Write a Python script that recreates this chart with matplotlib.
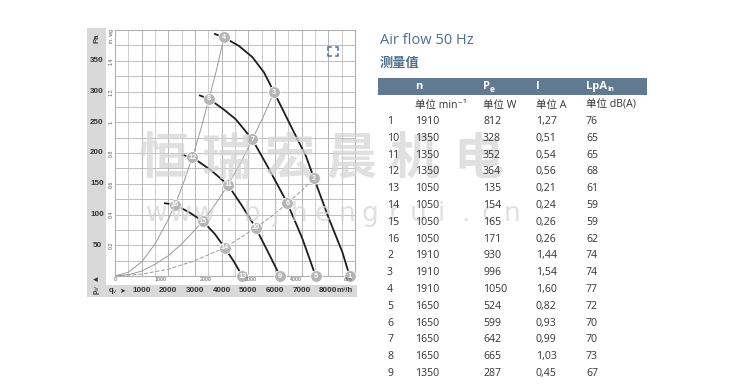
import matplotlib

matplotlib.use("Agg")
import matplotlib.pyplot as plt
from matplotlib.patches import Rectangle
from matplotlib.lines import Line2D
from matplotlib.transforms import blended_transform_factory as blend

W, H = 750, 386

plt.rcParams["font.family"] = ["Open Sans", "Noto Sans CJK SC", "DejaVu Sans"]

# --- fan curves, q in m3/h, p in Pa ---
N1910_Q = [3713, 4088, 4650, 5150, 5588, 5963, 6650, 7150, 7463, 8025, 8525, 8800]
N1910_P = [394, 388, 374, 356, 331, 299, 239, 196, 159, 93, 39, 0]
N1650_Q = [3150, 3525, 4100, 4525, 5150, 5775, 6463, 7025, 7525]
N1650_P = [294, 288, 270, 255, 222, 174, 118.5, 61, 0]
N1350_Q = [2500, 2900, 3600, 4238, 4750, 5275, 5750, 6188]
N1350_P = [197, 193, 172, 148, 115, 78.5, 38, 0]
N1050_Q = [1838, 2250, 2800, 3300, 3750, 4113, 4450, 4775]
N1050_P = [118.5, 116, 103, 89, 68, 46, 24, 0]

# --- system curves ---
SYS_A_Q = [0, 500, 1000, 1500, 2000, 2250, 2600, 2900, 3200, 3525, 3800, 4088]
SYS_A_P = [0, 6, 23, 52, 92, 116, 155, 193, 236, 288, 334, 388]
SYS_B_Q = [0, 500, 1000, 1500, 2000, 2500, 3300, 3800, 4238, 4700, 5150, 5550, 5963]
SYS_B_P = [0, 2, 8, 19, 33, 52, 89, 119, 148, 183, 222, 258, 299]
SYS_C_Q = [0, 1000, 2000, 3000, 4113, 4700, 5275, 5900, 6463, 7000, 7463]
SYS_C_P = [0, 3, 11, 25, 46, 62, 78.5, 98, 118.5, 139, 159]

# --- operating points ---
PT_ID = ["1", "2", "3", "4", "5", "6", "7", "8",
         "9", "10", "11", "12", "13", "14", "15", "16"]
PT_Q = [8800, 7463, 5963, 4088, 7525, 6463, 5150, 3525,
        6188, 5275, 4238, 2900, 4775, 4113, 3300, 2250]
PT_P = [0, 159, 299, 388, 0, 118.5, 222, 288,
        0, 78.5, 148, 193, 0, 46, 89, 116]

# --- axis labels ---
PA_TICKS = [50, 100, 150, 200, 250, 300, 350]
INWG_TICKS = [0.2, 0.4, 0.6, 0.8, 1, 1.2, 1.4]
INWG_LABELS = ["0.2", "0.4", "0.6", "0.8", "1", "1.2", "1.4"]
CFM_TICKS = [0, 1000, 2000, 3000, 4000]
Q_TICKS = [1000, 2000, 3000, 4000, 5000, 6000, 7000, 8000]

# --- table ---
ROW_ID = ["1", "10", "11", "12", "13", "14", "15", "16",
          "2", "3", "4", "5", "6", "7", "8", "9"]
ROW_N = ["1910", "1350", "1350", "1350", "1050", "1050", "1050", "1050",
         "1910", "1910", "1910", "1650", "1650", "1650", "1650", "1350"]
ROW_PE = ["812", "328", "352", "364", "135", "154", "165", "171",
          "930", "996", "1050", "524", "599", "642", "665", "287"]
ROW_I = ["1,27", "0,51", "0,54", "0,56", "0,21", "0,24", "0,26", "0,26",
         "1,44", "1,54", "1,60", "0,82", "0,93", "0,99", "1,03", "0,45"]
ROW_LPA = ["76", "65", "65", "68", "61", "59", "59", "62",
           "74", "74", "77", "72", "70", "70", "73", "67"]
UNITS = ["单位 min⁻¹", "单位 W", "单位 A", "单位 dB(A)"]


def fx(x):
    return x / W


def fy(y):
    return 1 - y / H


fig = plt.figure(figsize=(W / 100, H / 100), dpi=100)
fig.patch.set_facecolor("white")

# gray frame bands of the chart panel
fig.add_artist(Rectangle((fx(87), fy(297)), (106 - 87) / W, (297 - 28) / H,
                         transform=fig.transFigure, color="#d9d9d9", lw=0, zorder=0))
fig.add_artist(Rectangle((fx(87), fy(297)), (357 - 87) / W, (297 - 285) / H,
                         transform=fig.transFigure, color="#d9d9d9", lw=0, zorder=0))

ax = fig.add_axes([fx(115), fy(276), 240 / W, 246 / H])
ax.set_xlim(0, 9000)
ax.set_ylim(0, 400)
ax.set_xticks([])
ax.set_yticks([])
for s in ax.spines.values():
    s.set_color("#b0b0b0")
    s.set_linewidth(0.8)

for q in range(500, 9000, 500):
    ax.axvline(q, color="#a8a8a8" if q % 1000 == 0 else "#c4c4c4", lw=0.6, zorder=1)
for p in range(25, 400, 25):
    ax.axhline(p, color="#b4b4b4", lw=0.6, zorder=1)

ax.plot(SYS_A_Q, SYS_A_P, color="#9a9a9a", lw=0.7, zorder=2)
ax.plot(SYS_B_Q, SYS_B_P, color="#9a9a9a", lw=0.7, zorder=2)
ax.plot(SYS_C_Q, SYS_C_P, color="#9a9a9a", lw=0.7, ls=(0, (4, 2)), zorder=2)

for qs, ps in [(N1910_Q, N1910_P), (N1650_Q, N1650_P),
               (N1350_Q, N1350_P), (N1050_Q, N1050_P)]:
    ax.plot(qs, ps, color="#1e1e1e", lw=1.3, zorder=3, solid_capstyle="butt")

ax.scatter(PT_Q, PT_P, s=72, color="#b5b5b5", edgecolor="white", lw=0.6,
           zorder=4, clip_on=False)
for pid, q, p in zip(PT_ID, PT_Q, PT_P):
    ax.text(q, p, pid, color="white", fontsize=5.2, fontweight="bold",
            ha="center", va="center", zorder=5, family="Liberation Sans")

# left band: Pa scale
tr_y = blend(fig.transFigure, ax.transData)
for p in PA_TICKS:
    fig.text(fx(97), p, str(p), transform=tr_y, ha="center", va="center",
             fontsize=5.8, fontweight="bold", color="#333333", family="Liberation Sans")
fig.text(fx(97), fy(38), "Pa", rotation=90, ha="center", va="center",
         fontsize=5.5, fontweight="bold", color="#333333", family="Liberation Sans")
fig.text(fx(97), fy(279), "▲", rotation=90, ha="center", va="center",
         fontsize=4.5, color="#333333", family="DejaVu Sans")
fig.text(fx(97), fy(289), "p$_{sf}$", rotation=90, ha="center", va="center",
         fontsize=5, fontweight="bold", color="#333333", family="Liberation Sans")

# inner in. wg scale
for v, lab in zip(INWG_TICKS, INWG_LABELS):
    fig.text(fx(111), v * 249.09, lab, transform=tr_y, rotation=90, ha="center",
             va="center", fontsize=3.8, color="#555555", family="Liberation Sans")
fig.text(fx(111), fy(36), "in. wg", rotation=90, ha="center", va="center",
         fontsize=3.8, color="#555555", family="Liberation Sans")

# inner cfm scale
tr_x = blend(ax.transData, fig.transFigure)
for c in CFM_TICKS:
    fig.text(c * 1.699, fy(279.5), str(c), transform=tr_x, ha="center", va="center",
             fontsize=3.8, color="#555555", family="Liberation Sans")
fig.text(8737, fy(279.5), "cfm", transform=tr_x, ha="center", va="center",
         fontsize=3.8, color="#555555", family="Liberation Sans")

# bottom band: m3/h scale
for q in Q_TICKS:
    fig.text(q, fy(291), str(q), transform=tr_x, ha="center", va="center",
             fontsize=5.8, fontweight="bold", color="#333333", family="Liberation Sans")
fig.text(fx(345), fy(291), "m³/h", ha="center", va="center",
         fontsize=5.5, fontweight="bold", color="#333333", family="Liberation Sans")
fig.text(fx(113), fy(291), "q$_v$", ha="center", va="center",
         fontsize=5.5, fontweight="bold", color="#333333", family="Liberation Sans")
fig.text(fx(122), fy(291), "➤", ha="center", va="center",
         fontsize=5, color="#333333", family="DejaVu Sans")

# full-screen icon
ic, d, cx, cy = "#5b7a97", 2.5, 333, 51.5
for sx in (-1, 1):
    for sy in (-1, 1):
        x0, y0 = cx + sx * 5, cy + sy * 4.5
        fig.add_artist(Line2D([fx(x0 - sx * d), fx(x0), fx(x0)],
                              [fy(y0), fy(y0), fy(y0 - sy * d)],
                              transform=fig.transFigure, color=ic, lw=1.2))

# table on the right
blue = "#506f8c"
fig.text(fx(380), fy(40), "Air flow 50 Hz", fontsize=10.5, color=blue,
         ha="left", va="center")
fig.text(fx(380), fy(63), "测量值", fontsize=9.5, color=blue, fontweight="bold",
         ha="left", va="center", family=["Noto Sans CJK SC", "DejaVu Sans"])
fig.add_artist(Rectangle((fx(378), fy(95)), (647 - 378) / W, 17 / H,
                         transform=fig.transFigure, color="#617a91", lw=0))

cols = [415, 483, 536, 586]
hy = 86.5
fig.text(fx(cols[0]), fy(hy), "n", color="white", fontsize=8, fontweight="bold",
         ha="left", va="center")
fig.text(fx(cols[1]), fy(hy), "P", color="white", fontsize=8, fontweight="bold",
         ha="left", va="center")
fig.text(fx(cols[1] + 6.5), fy(hy + 2.5), "e", color="white", fontsize=6,
         fontweight="bold", ha="left", va="center")
fig.text(fx(cols[2]), fy(hy), "I", color="white", fontsize=8, fontweight="bold",
         ha="left", va="center")
fig.text(fx(cols[3]), fy(hy), "LpA", color="white", fontsize=8, fontweight="bold",
         ha="left", va="center")
fig.text(fx(cols[3] + 21), fy(hy + 3), "in", color="white", fontsize=5,
         fontweight="bold", ha="left", va="center")

txt = "#333333"
for u, c in zip(UNITS, cols):
    fig.text(fx(c), fy(105), u, color=txt, fontsize=7.6, ha="left", va="center",
             zorder=11)

y0, dy = 121.5, 16.8
for i, row in enumerate(zip(ROW_ID, ROW_N, ROW_PE, ROW_I, ROW_LPA)):
    y = y0 + i * dy
    for val, c in zip(row, [387] + cols):
        fig.text(fx(c), fy(y), val, color=txt, fontsize=7.6, ha="left", va="center",
                 zorder=11)

# watermark
WM_CHARS = "恒瑞宏晨机电"
for i, ch in enumerate(WM_CHARS):
    fig.text(fx(163 + i * 63), fy(160), ch, fontsize=36, fontweight="bold",
             color="#d6d6d6", alpha=0.75, ha="center", va="center",
             family=["Noto Sans CJK SC", "DejaVu Sans"], zorder=10)
WM_URL = "www.bjhengrui.cn"
for i, ch in enumerate(WM_URL):
    fig.text(fx(157 + i * 23.7), fy(221), ch, fontsize=19, color="#d6d6d6",
             alpha=0.75, ha="center", va="baseline", family="DejaVu Sans", zorder=10)

fig.savefig("out.png", dpi=100)
